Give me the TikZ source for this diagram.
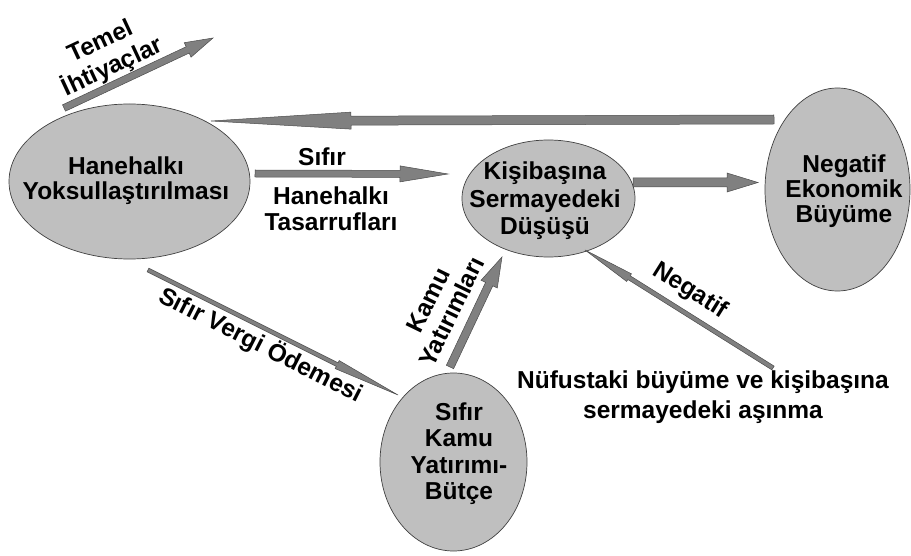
\documentclass[tikz,border=0pt]{standalone}
\usepackage{fontspec}
\setmainfont{Liberation Sans}
\usetikzlibrary{shapes.geometric,calc}
\newcommand\blockarr[6]{%
  \coordinate (#6c) at ($(#2)!#5!(#1)$);
  \draw[arr] ($(#1)!#3!90:(#2)$) -- ($(#6c)!#3!90:(#2)$) -- ($(#6c)!#4!90:(#2)$) -- (#2)
    -- ($(#6c)!#4!-90:(#2)$) -- ($(#6c)!#3!-90:(#2)$) -- ($(#1)!#3!-90:(#2)$) -- cycle;}
\begin{document}
\begin{tikzpicture}[x=1pt,y=-1pt,
  blob/.style={ellipse, draw=black!75, line width=0.7pt, fill=black!25, inner sep=0pt},
  lbl/.style={font=\fontsize{24.5}{#1}\selectfont\bfseries, align=center, inner sep=0pt, text=black},
  lbl/.default=26,
  arr/.style={draw=black!70, line width=0.5pt, fill=black!50, line join=miter}]
\useasboundingbox (0,0) rectangle (911,556);
% ellipses
\node[blob, minimum width=241pt, minimum height=155pt] (H) at (129.5,181.5) {};
\node[blob, minimum width=173pt, minimum height=117pt] (K) at (548.5,198.5) {};
\node[blob, minimum width=145pt, minimum height=203pt] (N) at (837.5,189.5) {};
\node[blob, minimum width=147pt, minimum height=178pt] (S) at (453.5,462) {};
% texts in ellipses
\node[lbl=25] (Ht) at (126,181) {Hanehalkı\\Yoksullaştırılması};
\node[lbl=27.5] (Kt) at (545,201) {Kişibaşına\\Sermayedeki\\Düşüşü};
\node[lbl=25] (Nt) at (844,191) {Negatif\\Ekonomik\\Büyüme};
\node[lbl=26.5] (St) at (459,453.5) {Sıfır\\Kamu\\Yatırımı-\\Bütçe};
% arrow end points
\coordinate (t1a) at (64,108);   \coordinate (t1b) at (213,38);
\coordinate (nha) at (774,119.5); \coordinate (nhb) at (211,121);
\coordinate (hka) at (255,173.5); \coordinate (hkb) at (448,174);
\coordinate (kna) at (633,182.5); \coordinate (knb) at (758,182.5);
\coordinate (hsa) at (148,270);  \coordinate (hsb) at (398,395);
\coordinate (ska) at (450,367);  \coordinate (skb) at (502,257);
\coordinate (nka) at (773,368);  \coordinate (nkb) at (585,250);
% arrows
\blockarr{t1a}{t1b}{3.5pt}{8pt}{28pt}{t1}
\blockarr{nha}{nhb}{4.5pt}{8.5pt}{140pt}{nh}
\blockarr{hka}{hkb}{3.5pt}{8pt}{48pt}{hk}
\blockarr{kna}{knb}{4.5pt}{9.5pt}{31pt}{kn}
\blockarr{hsa}{hsb}{2pt}{4.5pt}{68pt}{hs}
\blockarr{ska}{skb}{4pt}{9pt}{30pt}{sk}
\blockarr{nka}{nkb}{2.2pt}{4.5pt}{52pt}{nk}
% labels
\node[lbl=28, rotate=25] (temel) at (107,55) {Temel\\İhtiyaçlar};
\node[lbl] (sifir) at (322,157) {Sıfır};
\node[lbl] (hanetas) at (331,209) {Hanehalkı\\Tasarrufları};
\node[lbl, rotate=-27] (vergi) at (261,345) {Sıfır Vergi Ödemesi};
\node[lbl, rotate=64] (kamu) at (440,306) {Kamu\\Yatırımları};
\node[lbl, rotate=-32] (neg) at (690,291) {Negatif};
\node[lbl=30] (nufus) at (703,397) {Nüfustaki büyüme ve kişibaşına\\sermayedeki aşınma};
\end{tikzpicture}
\end{document}
